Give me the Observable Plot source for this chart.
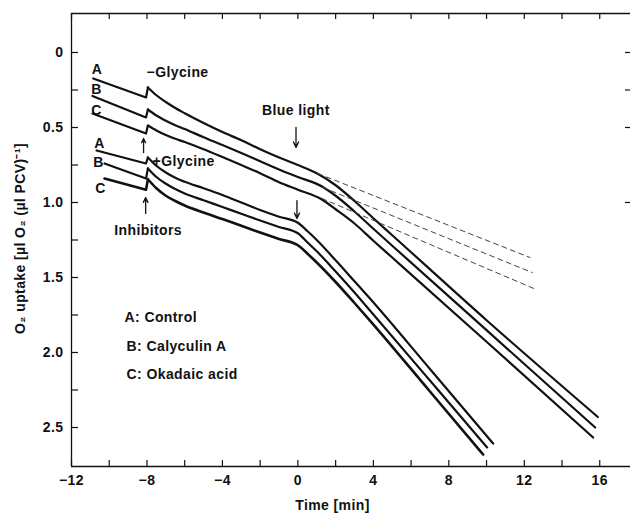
<!DOCTYPE html>
<html><head><meta charset="utf-8">
<script src="https://cdn.jsdelivr.net/npm/d3@7"></script>
<script src="https://cdn.jsdelivr.net/npm/@observablehq/plot@0.6"></script>
<style>body{margin:0;background:#fff;}</style>
</head><body><div id="chart"></div>
<script>
// ---- data (time [min], O2 uptake) ----
// -Glycine group
const upperA = [[-10.85,0.173],[-8.05,0.30],[-7.95,0.233],[-7.5,0.285],[-7,0.33],[-6.5,0.37],[-6,0.405],[-5,0.47],[-4,0.53],[-3,0.585],[-2,0.645],[-1,0.70],[0,0.75],[1,0.805],[2,0.885],[3,0.99],[4,1.105],[5,1.218],[10,1.785],[15.9,2.43]];
const upperB = [[-10.89,0.29],[-8.05,0.433],[-7.95,0.38],[-7.5,0.42],[-7,0.455],[-6.5,0.485],[-6,0.51],[-5,0.565],[-4,0.617],[-3,0.67],[-2,0.725],[-1,0.78],[0,0.83],[1.3,0.895],[2,0.955],[3,1.06],[4,1.175],[5,1.288],[10,1.851],[15.76,2.50]];
const upperC = [[-10.89,0.407],[-8.05,0.54],[-7.95,0.487],[-7.5,0.52],[-7,0.55],[-6.5,0.575],[-6,0.597],[-5,0.645],[-4,0.697],[-3,0.75],[-2,0.805],[-1,0.865],[0,0.915],[1.27,0.98],[2,1.045],[3,1.14],[4,1.255],[5,1.367],[10,1.928],[15.65,2.567]];
// +Glycine group
const lowerA = [[-10.67,0.653],[-8.05,0.74],[-7.95,0.70],[-7.5,0.755],[-7,0.80],[-6.5,0.835],[-6,0.862],[-5,0.905],[-4,0.95],[-3,1.0],[-2,1.05],[-1,1.095],[0,1.135],[0.5,1.19],[1,1.25],[2,1.385],[3,1.525],[3.82,1.64],[7,2.11],[10.35,2.607]];
const lowerB = [[-10.25,0.74],[-8.05,0.84],[-7.95,0.773],[-7.5,0.83],[-7,0.875],[-6.5,0.91],[-6,0.94],[-5,0.985],[-4,1.03],[-3,1.075],[-2,1.12],[-1,1.163],[0,1.205],[0.5,1.265],[1,1.325],[2,1.46],[3,1.60],[3.82,1.72],[7,2.187],[10.03,2.633]];
const lowerC = [[-10.25,0.84],[-8.05,0.915],[-7.95,0.845],[-7.5,0.905],[-7,0.955],[-6.5,0.99],[-6,1.02],[-5,1.067],[-4,1.11],[-3,1.155],[-2,1.20],[-1,1.243],[0,1.285],[0.5,1.34],[1,1.40],[2,1.53],[3,1.67],[3.82,1.787],[7,2.26],[9.82,2.68]];
// extrapolated (dashed) dark rates
const dash1 = [[1.06,0.807],[12.31,1.367]];
const dash2 = [[1.32,0.90],[12.42,1.467]];
const dash3 = [[1.27,0.973],[12.63,1.58]];

const xTicks = [-12,-10,-8,-6,-4,-2,0,2,4,6,8,10,12,14,16];
const xLabels = [-12,-8,-4,0,4,8,12,16];
const yTicks = [0,0.25,0.5,0.75,1,1.25,1.5,1.75,2,2.25,2.5];
const yLabels = [0,0.5,1,1.5,2,2.5];
const rightTicks = [0,0.25,0.5,1];
const xDomain = [-12, 17.63];
const yDomain = [-0.26, 2.76];

const seriesLetters = [
  {text:"A", t:-10.65, v:0.113},{text:"B", t:-10.67, v:0.25},{text:"C", t:-10.67, v:0.387},
  {text:"A", t:-10.51, v:0.607},{text:"B", t:-10.57, v:0.733},{text:"C", t:-10.46, v:0.907},
  {text:"Blue light", t:-0.11, v:0.387},{text:"Inhibitors", t:-7.94, v:1.187}
];
const startLabels = [
  {text:"\u2212Glycine", t:-8.02, v:0.133},{text:"+Glycine", t:-7.7, v:0.727},
  {text:"A: Control", t:-9.19, v:1.767},{text:"B: Calyculin A", t:-9.08, v:1.96},{text:"C: Okadaic acid", t:-9.08, v:2.147}
];
const arrows = [
  {t1:-0.1, v1:0.50, t2:-0.1, v2:0.633},
  {t1:-0.05, v1:0.987, t2:-0.05, v2:1.107},
  {t1:-8.18, v1:0.667, t2:-8.18, v2:0.573},
  {t1:-8.07, v1:1.073, t2:-8.07, v2:0.967}
];
const xTitle = "Time [min]";
const yTitle = "O\u2082 uptake [\u00b5l O\u2082 (\u00b5l PCV)\u207b\u00b9]";

// ---- layout ----
const W = 630, H = 514, mL = 71, mR = 0, mT = 13, mB = 48;
const plotW = W - mL - mR, plotH = H - mT - mB;
const tickLen = 6;
const fs = 14;

const solid = (arr, extra={}) => [
  Plot.line(arr.slice(0,3), {x: d=>d[0], y: d=>d[1], stroke:"#111", strokeWidth: extra.sw || 2.2}),
  Plot.line(arr.slice(2), {x: d=>d[0], y: d=>d[1], stroke:"#111", strokeWidth: extra.sw || 2.2, curve:"monotone-x"})
];
const dashed = arr => Plot.line(arr, {x: d=>d[0], y: d=>d[1], stroke:"#444", strokeWidth: 1, strokeDasharray: "5,4"});

const chart = Plot.plot({
  width: W, height: H,
  marginLeft: mL, marginRight: mR, marginTop: mT, marginBottom: mB,
  x: {domain: xDomain, label: null},
  y: {domain: yDomain, reverse: true, label: null},
  style: {fontFamily: "'Liberation Sans', Arial, sans-serif", fontSize: fs + "px", fontWeight: "bold", letterSpacing: "0.4px", background: "#fff", color: "#111", overflow: "visible"},
  marks: [
    Plot.ruleY([yDomain[0], yDomain[1]], {stroke: "#111", strokeWidth: 1.3}),
    Plot.ruleX([xDomain[0]], {stroke: "#111", strokeWidth: 1.3}),
    Plot.tickX(xTicks, {x: d=>d, insetTop: plotH - tickLen, stroke:"#111", strokeWidth: 1.2}),
    Plot.tickX(xTicks, {x: d=>d, insetBottom: plotH - tickLen, stroke:"#111", strokeWidth: 1.2}),
    Plot.tickY(yTicks, {y: d=>d, insetRight: plotW - 7, stroke:"#111", strokeWidth: 1.2}),
    Plot.tickY(rightTicks, {y: d=>d, insetLeft: plotW - 5, stroke:"#111", strokeWidth: 1.2}),
    Plot.axisX({ticks: xLabels, tickSize: 0, tickPadding: 9, fontSize: fs, label: null}),
    Plot.axisY({ticks: yLabels, tickSize: 0, tickPadding: 8, fontSize: fs, label: null, tickFormat: d => d === 0 ? "0" : d3.format(".1f")(d)}),
    ...solid(upperA), ...solid(upperB), ...solid(upperC),
    ...solid(lowerA), ...solid(lowerB), ...solid(lowerC, {sw: 2.6}),
    dashed(dash1), dashed(dash2), dashed(dash3),
    Plot.arrow(arrows, {x1:"t1", y1:"v1", x2:"t2", y2:"v2", stroke:"#111", strokeWidth: 1.3, headLength: 7, headAngle: 50}),
    Plot.text(seriesLetters, {x:"t", y:"v", text:"text", textAnchor:"middle", lineAnchor:"middle", fontSize: fs}),
    Plot.text(startLabels, {x:"t", y:"v", text:"text", textAnchor:"start", lineAnchor:"middle", fontSize: fs}),
    Plot.text([xTitle], {frameAnchor:"bottom", dx: 332 - (mL + plotW/2), dy: 39, lineAnchor:"middle", fontSize: fs}),
    Plot.text([yTitle], {frameAnchor:"left", rotate: -90, dx: -51, dy: -1.5, lineAnchor:"middle", textAnchor:"middle", fontSize: fs})
  ]
});
document.getElementById("chart").appendChild(chart);
</script></body></html>
